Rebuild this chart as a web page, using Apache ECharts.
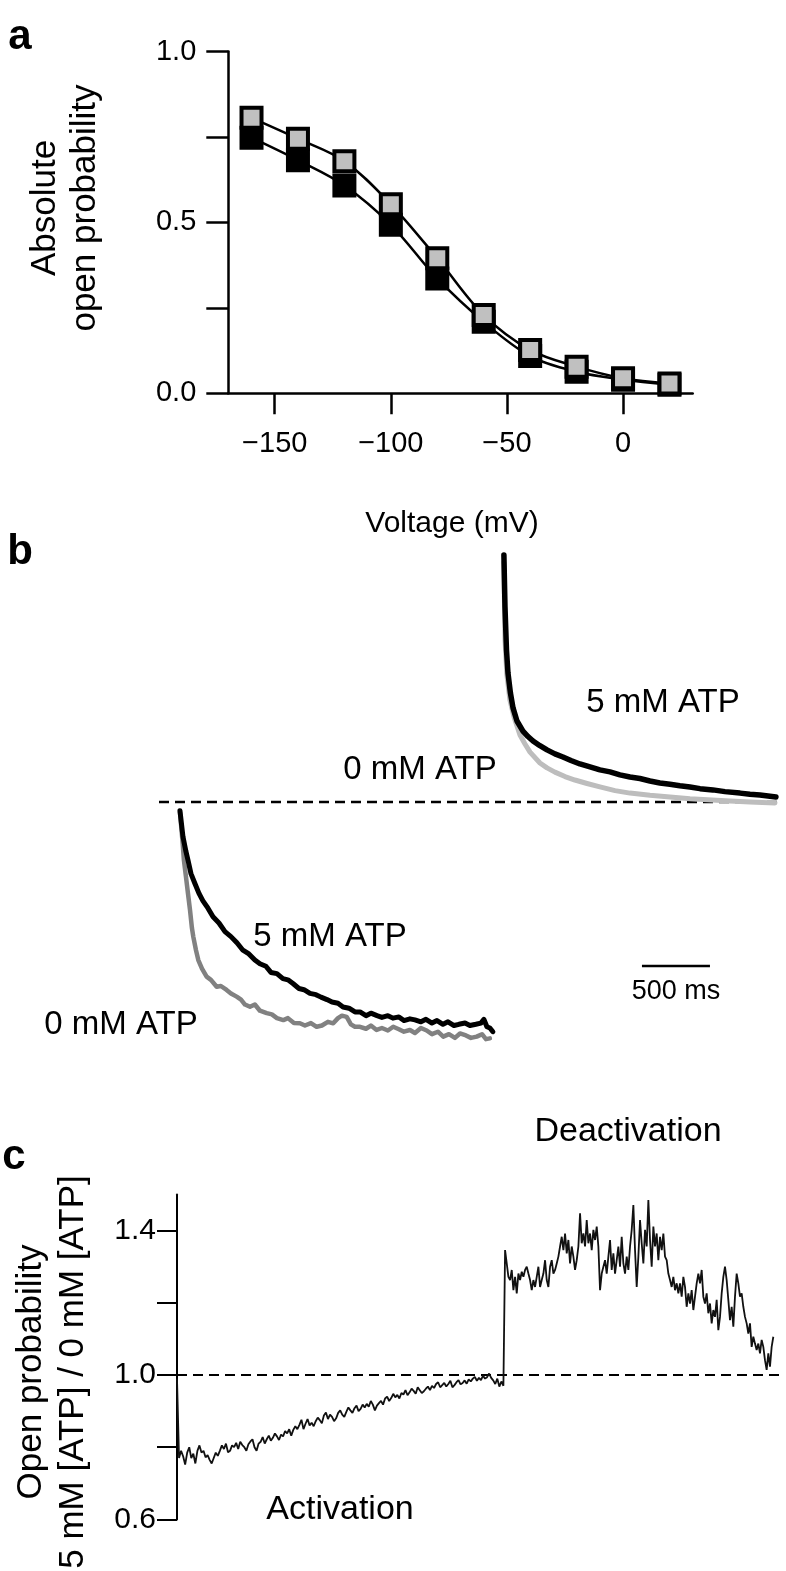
<!DOCTYPE html>
<html>
<head>
<meta charset="utf-8">
<script src="https://cdn.jsdelivr.net/npm/echarts@6/dist/echarts.min.js"></script>
<style>
  html, body { margin: 0; padding: 0; background: #fff; }
  #chart { width: 786px; height: 1571px; }
</style>
</head>
<body>
<div id="chart"></div>
<script>
// ---- panel a: absolute open probability vs voltage ----
const voltages = [-160, -140, -120, -100, -80, -60, -40, -20, 0, 20];
const poGrey  = [0.806, 0.745, 0.679, 0.553, 0.395, 0.229, 0.127, 0.078, 0.044, 0.029];
const poBlack = [0.748, 0.682, 0.608, 0.493, 0.336, 0.209, 0.109, 0.063, 0.040, 0.025];
const aXTicks = [-150, -100, -50, 0];
const aYTicks = [0, 0.25, 0.5, 0.75, 1];
const aYLabels = [0, 0.5, 1];

// ---- panel b: current traces (ms, normalised) ----
const actTime5 = [0, 22, 44, 59, 81, 110, 140, 169, 206, 243, 287, 331, 375, 419, 463, 507, 551, 588, 632, 669,
  713, 757, 794, 831, 875, 912, 956, 1000, 1037, 1081, 1118, 1162, 1199, 1243, 1287, 1324, 1368, 1404, 1449, 1485,
  1529, 1566, 1610, 1647, 1691, 1728, 1772, 1809, 1853, 1890, 1934, 1971, 2015, 2051, 2096, 2132, 2176, 2213, 2235, 2257,
  2279, 2301];
const actCurrent5 = [-0.035, -0.14, -0.20, -0.235, -0.29, -0.33, -0.37, -0.40, -0.43, -0.465,
  -0.49, -0.525, -0.545, -0.57, -0.60, -0.615, -0.64, -0.655, -0.665, -0.69,
  -0.695, -0.715, -0.72, -0.735, -0.755, -0.76, -0.775, -0.78, -0.79, -0.80,
  -0.81, -0.815, -0.83, -0.835, -0.85, -0.85, -0.865, -0.855, -0.865, -0.872,
  -0.865, -0.875, -0.87, -0.885, -0.878, -0.882, -0.89, -0.88, -0.895, -0.885,
  -0.9, -0.89, -0.905, -0.9, -0.895, -0.905, -0.9, -0.895, -0.88, -0.91,
  -0.915, -0.93];
const actTime0 = [0, 20, 29, 44, 59, 74, 88, 98, 118, 135, 162, 196, 228, 270, 301, 343, 375, 417, 449, 478,
  515, 551, 588, 638, 676, 713, 760, 794, 838, 882, 919, 963, 1005, 1044, 1088, 1127, 1162, 1191, 1226, 1257,
  1287, 1324, 1368, 1404, 1446, 1485, 1529, 1568, 1610, 1647, 1691, 1728, 1772, 1814, 1853, 1897, 1936, 1978, 2022, 2059,
  2103, 2140, 2182, 2221, 2250, 2279];
const actCurrent0 = [-0.04, -0.167, -0.235, -0.302, -0.37, -0.437, -0.51, -0.545, -0.60, -0.64,
  -0.675, -0.707, -0.72, -0.748, -0.745, -0.761, -0.775, -0.788, -0.80, -0.82,
  -0.829, -0.82, -0.845, -0.855, -0.86, -0.875, -0.883, -0.875, -0.895, -0.896,
  -0.905, -0.895, -0.91, -0.905, -0.89, -0.896, -0.875, -0.865, -0.87, -0.90,
  -0.91, -0.91, -0.918, -0.905, -0.923, -0.915, -0.925, -0.91, -0.92, -0.93,
  -0.923, -0.935, -0.915, -0.925, -0.94, -0.93, -0.95, -0.94, -0.955, -0.937,
  -0.945, -0.955, -0.95, -0.94, -0.96, -0.957];
const deactTime5 = [2382, 2390, 2401, 2412, 2430, 2449, 2478, 2522, 2559, 2596, 2647, 2699, 2757, 2816, 2875, 2941,
  3015, 3088, 3162, 3235, 3309, 3382, 3456, 3529, 3603, 3676, 3750, 3824, 3919, 4007, 4118, 4191, 4265, 4324, 4382];
const deactCurrent5 = [1.0, 0.789, 0.615, 0.522, 0.441, 0.381, 0.328, 0.287, 0.265, 0.247, 0.228, 0.211, 0.195,
  0.182, 0.168, 0.154, 0.142, 0.130, 0.122, 0.110, 0.101, 0.095, 0.085, 0.077, 0.072, 0.066, 0.061, 0.054,
  0.049, 0.042, 0.036, 0.031, 0.028, 0.024, 0.020];
const deactTime0 = [2382, 2390, 2404, 2426, 2456, 2500, 2537, 2574, 2647, 2699, 2757, 2831, 2904, 2993, 3088,
  3199, 3309, 3456, 3603, 3750, 3912, 4044, 4191, 4375];
const deactCurrent0 = [0.97, 0.656, 0.514, 0.413, 0.344, 0.271, 0.235, 0.202, 0.158, 0.138, 0.121, 0.103,
  0.089, 0.075, 0.061, 0.046, 0.036, 0.027, 0.020, 0.013, 0.008, 0.004, 0.0, -0.004];
const scaleBarTime = [3397, 3897];   // 500 ms
const scaleBarLevel = -0.664;

// ---- panel c: ratio 5 mM / 0 mM, sampled traces ----
const ratioActStart = 0, ratioActStep = 15;        // ms
const ratioActivation = [
  0.99, 0.77, 0.79, 0.775, 0.752, 0.785, 0.80, 0.77, 0.782, 0.755,
  0.79, 0.805, 0.785, 0.79, 0.772, 0.778, 0.765, 0.755, 0.77, 0.785,
  0.776, 0.79, 0.805, 0.795, 0.81, 0.786, 0.79, 0.805, 0.80, 0.812,
  0.795, 0.815, 0.806, 0.80, 0.79, 0.808, 0.816, 0.822, 0.80, 0.79,
  0.81, 0.815, 0.828, 0.81, 0.822, 0.832, 0.818, 0.826, 0.838, 0.83,
  0.82, 0.835, 0.83, 0.845, 0.838, 0.85, 0.832, 0.848, 0.858, 0.85,
  0.862, 0.876, 0.85, 0.865, 0.878, 0.86, 0.868, 0.858, 0.872, 0.882,
  0.875, 0.866, 0.888, 0.896, 0.878, 0.89, 0.884, 0.872, 0.88, 0.895,
  0.902, 0.89, 0.884, 0.898, 0.91, 0.902, 0.895, 0.908, 0.915, 0.90,
  0.906, 0.918, 0.91, 0.92, 0.912, 0.928, 0.918, 0.902, 0.915, 0.922,
  0.928, 0.918, 0.935, 0.94, 0.928, 0.936, 0.948, 0.938, 0.945, 0.935,
  0.95, 0.946, 0.958, 0.944, 0.952, 0.962, 0.956, 0.948, 0.966, 0.958,
  0.95, 0.955, 0.962, 0.968, 0.958, 0.97, 0.964, 0.975, 0.98, 0.966,
  0.972, 0.978, 0.968, 0.975, 0.984, 0.966, 0.972, 0.98, 0.986, 0.974,
  0.978, 0.985, 0.976, 0.988, 0.982, 0.99, 0.995, 0.984, 0.992, 0.986,
  0.998, 0.99, 0.994, 1.004, 0.992, 0.985, 0.975, 0.99, 0.968, 0.982];
const ratioDeactStart = 2400, ratioDeactStep = 12.25; // ms
const ratioDeactivation = [
  0.97,
  1.346, 1.342, 1.272, 1.263, 1.291, 1.235, 1.272, 1.226, 1.281, 1.263,
  1.286, 1.272, 1.291, 1.300, 1.281, 1.263, 1.235, 1.263, 1.244, 1.272,
  1.300, 1.244, 1.263, 1.281, 1.318, 1.263, 1.244, 1.300, 1.318, 1.281,
  1.291, 1.309, 1.328, 1.356, 1.383, 1.346, 1.392, 1.337, 1.374, 1.309,
  1.356, 1.328, 1.291, 1.318, 1.356, 1.448, 1.365, 1.392, 1.356, 1.429,
  1.365, 1.392, 1.346, 1.402, 1.374, 1.411, 1.356, 1.235, 1.281, 1.300,
  1.318, 1.281, 1.328, 1.374, 1.291, 1.337, 1.281, 1.318, 1.356, 1.300,
  1.383, 1.309, 1.281, 1.328, 1.291, 1.356, 1.402, 1.471, 1.346, 1.244,
  1.328, 1.429, 1.365, 1.309, 1.402, 1.356, 1.485, 1.374, 1.300, 1.411,
  1.356, 1.392, 1.318, 1.383, 1.346, 1.392, 1.328, 1.318, 1.281, 1.263,
  1.244, 1.272, 1.235, 1.254, 1.226, 1.254, 1.217, 1.272, 1.244, 1.189,
  1.226, 1.198, 1.235, 1.180, 1.217, 1.254, 1.281, 1.254, 1.291, 1.217,
  1.198, 1.226, 1.171, 1.198, 1.143, 1.180, 1.161, 1.208, 1.124, 1.161,
  1.226, 1.272, 1.300, 1.263, 1.208, 1.152, 1.189, 1.134, 1.217, 1.281,
  1.254, 1.217, 1.226, 1.189, 1.161, 1.143, 1.115, 1.143, 1.078, 1.106,
  1.087, 1.069, 1.087, 1.060, 1.097, 1.078, 1.041, 1.014, 1.060, 1.023,
  1.078, 1.106];
const cYTicks = [0.6, 0.8, 1.0, 1.2, 1.4];
const cYLabels = [0.6, 1.0, 1.4];

const FONT = '"Liberation Sans", Arial, Helvetica, sans-serif';
const pairs = (xs, ys) => xs.map((x, i) => [x, ys[i]]);
const sampled = (start, step, ys) => ys.map((y, i) => [start + i * step, y]);
const minus = (v) => (v < 0 ? '\u2212' + Math.abs(v) : String(v));

function label(x, y, text, size, extra) {
  const o = Object.assign({ weight: 'normal', rotation: 0, lineHeight: null }, extra || {});
  const style = {
    text: text,
    font: o.weight + ' ' + size + 'px ' + FONT,
    fill: '#000',
    align: 'center', verticalAlign: 'middle',
    textAlign: 'center', textVerticalAlign: 'middle'
  };
  if (o.lineHeight) style.lineHeight = o.lineHeight;
  return { type: 'text', x: x, y: y, rotation: o.rotation, z: 50, style: style };
}

const chart = echarts.init(document.getElementById('chart'), null, { renderer: 'canvas' });

const tickLabelStyle = { color: '#000', fontSize: 29, fontFamily: FONT };

const option = {
  animation: false,
  backgroundColor: '#fff',
  grid: [
    { left: 228.3, top: 51.5, width: 464.4, height: 341.8 },   // a
    { left: 159, top: 530.3, width: 621, height: 543.4 },      // b
    { left: 177, top: 1194.5, width: 604, height: 324.9 }      // c
  ],
  xAxis: [
    {
      gridIndex: 0, type: 'value', min: -170, max: 30,
      axisLine: { onZero: false, lineStyle: { color: '#000', width: 2.5 } },
      axisTick: { show: true, customValues: aXTicks, length: 21, lineStyle: { color: '#000', width: 2.5 } },
      axisLabel: Object.assign({ customValues: aXTicks, margin: 36, formatter: minus }, tickLabelStyle),
      splitLine: { show: false }
    },
    { gridIndex: 1, type: 'value', min: -154, max: 4412, show: false },
    { gridIndex: 2, type: 'value', min: 0, max: 4441, show: false }
  ],
  yAxis: [
    {
      gridIndex: 0, type: 'value', min: 0, max: 1,
      axisLine: { show: true, onZero: false, lineStyle: { color: '#000', width: 2.5 } },
      axisTick: { show: true, customValues: aYTicks, length: 22, lineStyle: { color: '#000', width: 2.5 } },
      axisLabel: Object.assign({ customValues: aYLabels, margin: 32, formatter: (v) => v.toFixed(1) }, tickLabelStyle),
      splitLine: { show: false }
    },
    { gridIndex: 1, type: 'value', min: -1.1, max: 1.1, show: false },
    {
      gridIndex: 2, type: 'value', min: 0.6, max: 1.5,
      axisLine: { show: true, onZero: false, lineStyle: { color: '#000', width: 2 } },
      axisTick: { show: true, customValues: cYTicks, length: 20, lineStyle: { color: '#000', width: 2 } },
      axisLabel: Object.assign({ customValues: cYLabels, margin: 21, formatter: (v) => v.toFixed(1) },
        tickLabelStyle, { fontSize: 30 }),
      splitLine: { show: false }
    }
  ],
  series: [
    // panel a
    {
      type: 'line', xAxisIndex: 0, yAxisIndex: 0, z: 2, smooth: 0.35,
      data: pairs(voltages, poBlack),
      symbol: 'rect', symbolSize: 20,
      lineStyle: { color: '#000', width: 2.5 },
      itemStyle: { color: '#000', borderColor: '#000', borderWidth: 4 }
    },
    {
      type: 'line', xAxisIndex: 0, yAxisIndex: 0, z: 3, smooth: 0.35,
      data: pairs(voltages, poGrey),
      symbol: 'rect', symbolSize: 20,
      lineStyle: { color: '#000', width: 2.5 },
      itemStyle: { color: '#c0c0c0', borderColor: '#000', borderWidth: 4 }
    },
    // panel b
    {
      type: 'line', xAxisIndex: 1, yAxisIndex: 1, showSymbol: false, silent: true,
      data: [[-154, 0], [4412, 0]],
      lineStyle: { color: '#000', width: 2.5, type: [10, 6] }
    },
    {
      type: 'line', xAxisIndex: 1, yAxisIndex: 1, showSymbol: false,
      data: pairs(deactTime0, deactCurrent0),
      lineStyle: { color: '#bdbdbd', width: 5, join: 'round', cap: 'round' }
    },
    {
      type: 'line', xAxisIndex: 1, yAxisIndex: 1, showSymbol: false,
      data: pairs(deactTime5, deactCurrent5),
      lineStyle: { color: '#000', width: 5.5, join: 'round', cap: 'round' }
    },
    {
      type: 'line', xAxisIndex: 1, yAxisIndex: 1, showSymbol: false,
      data: pairs(actTime0, actCurrent0),
      lineStyle: { color: '#818181', width: 4.5, join: 'round', cap: 'round' }
    },
    {
      type: 'line', xAxisIndex: 1, yAxisIndex: 1, showSymbol: false,
      data: pairs(actTime5, actCurrent5),
      lineStyle: { color: '#000', width: 5, join: 'round', cap: 'round' }
    },
    {
      type: 'line', xAxisIndex: 1, yAxisIndex: 1, showSymbol: false,
      data: scaleBarTime.map((t) => [t, scaleBarLevel]),
      lineStyle: { color: '#000', width: 2.5 }
    },
    // panel c
    {
      type: 'line', xAxisIndex: 2, yAxisIndex: 2, showSymbol: false,
      data: [[0, 1], [4441, 1]],
      lineStyle: { color: '#000', width: 2, type: [10, 6] }
    },
    {
      type: 'line', xAxisIndex: 2, yAxisIndex: 2, showSymbol: false,
      data: sampled(ratioActStart, ratioActStep, ratioActivation)
        .concat(sampled(ratioDeactStart, ratioDeactStep, ratioDeactivation)),
      lineStyle: { color: '#111', width: 1.8 }
    }
  ],
  graphic: [
    label(20, 37, 'a', 42, { weight: 'bold' }),
    label(20, 552, 'b', 42, { weight: 'bold' }),
    label(14, 1157, 'c', 42, { weight: 'bold' }),
    label(65, 208, 'Absolute\nopen probability', 35, { rotation: Math.PI / 2, lineHeight: 40 }),
    label(452, 524, 'Voltage (mV)', 30),
    label(663, 703, '5 mM ATP', 33),
    label(420, 770, '0 mM ATP', 33),
    label(330, 937, '5 mM ATP', 33),
    label(121, 1025, '0 mM ATP', 33),
    label(676, 992, '500 ms', 27),
    label(628, 1132, 'Deactivation', 34),
    label(340, 1510, 'Activation', 34),
    label(52, 1372, 'Open probability\n5 mM [ATP] / 0 mM [ATP]', 35, { rotation: Math.PI / 2, lineHeight: 42 })
  ]
};

chart.setOption(option);
</script>
</body>
</html>
